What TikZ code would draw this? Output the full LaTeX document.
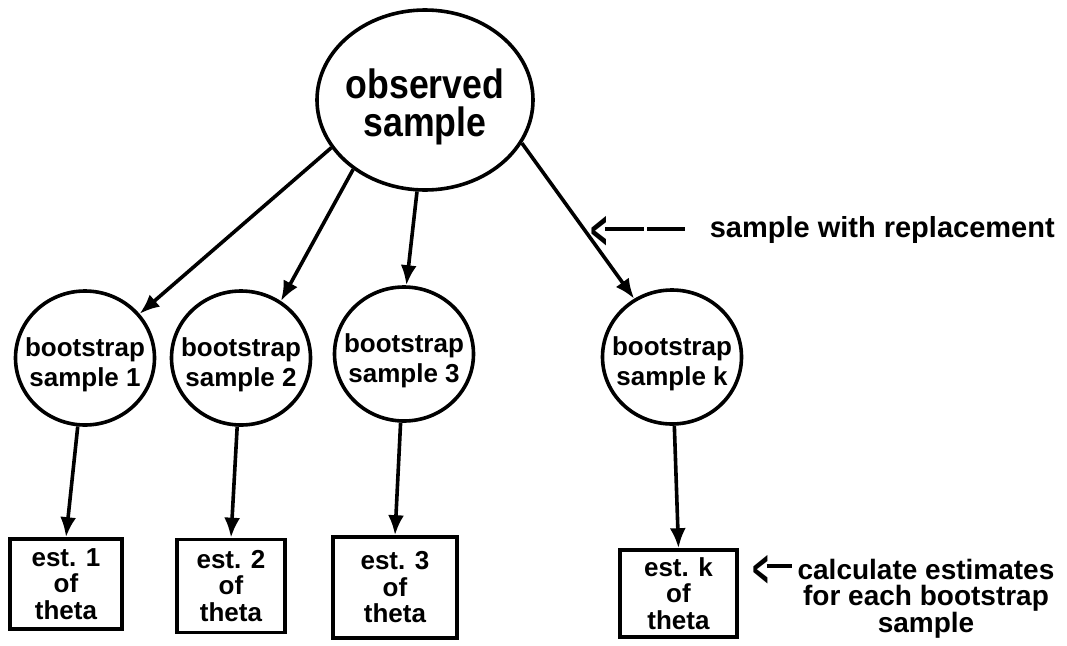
\documentclass[tikz,border=0pt]{standalone}
\usepackage{graphicx}
\usepackage{fontspec}
\setmainfont{Liberation Sans}
\newfontfamily\narrowsans{Liberation Sans}[FakeStretch=0.87]
\newfontfamily\symsans{DejaVu Sans}
\usetikzlibrary{arrows.meta,shapes.geometric}

% heavy, tall pointer glyph used in the side notes
\newcommand{\pointerglyph}{\raisebox{-9pt}{\scalebox{0.8}[1.8]{\symsans\bfseries <}}}

\begin{document}
\begin{tikzpicture}[x=1pt, y=-1pt, line width=3.6pt,
  rootnode/.style={ellipse, draw, inner xsep=-10pt, inner ysep=0pt,
    minimum width=216pt, minimum height=180pt,
    align=center, font=\narrowsans\bfseries\fontsize{41}{38}\selectfont},
  sampnode/.style={ellipse, draw, inner sep=-13pt, minimum width=139pt, minimum height=134pt,
    align=center, font=\bfseries\fontsize{26}{30}\selectfont},
  estbox/.style={rectangle, draw, inner sep=0pt, align=center,
    font=\bfseries\fontsize{26}{26.5}\selectfont},
  flow/.style={-{Latex[length=20pt,width=16pt]}, line width=3.6pt},
  note/.style={inner sep=0pt, align=center, font=\bfseries\fontsize{#1}{26}\selectfont},
  note/.default=28]

% canvas
\fill[white] (0,0) rectangle (1067,645);
\useasboundingbox (0,0) rectangle (1067,645);

% observed sample
\node[rootnode] (obs) at (425,100) {\rule{0pt}{44pt}observed\\sample};

% bootstrap samples
\node[sampnode] (s1) at (85,358)  {\rule{0pt}{33pt}bootstrap\\sample 1};
\node[sampnode] (s2) at (241,358) {\rule{0pt}{33pt}bootstrap\\sample 2};
\node[sampnode] (s3) at (404,354) {\rule{0pt}{33pt}bootstrap\\sample 3};
\node[sampnode] (sk) at (672,357) {\rule{0pt}{33pt}bootstrap\\sample k};

% estimates
\node[estbox, minimum width=112pt, minimum height=90pt]  (e1) at (66,584)    {est. 1\\of\\theta};
\node[estbox, minimum width=108pt, minimum height=93pt]  (e2) at (231,586)   {est. 2\\of\\theta};
\node[estbox, minimum width=124pt, minimum height=101pt] (e3) at (395,587.5) {est. 3\\of\\theta};
\node[estbox, minimum width=117pt, minimum height=87pt]  (ek) at (678.5,593.5) {est. k\\of\\theta};

% resampling arrows
\draw[flow] (obs.207) -- (s1.39);
\draw[flow] (obs.224) -- (s2.55);
\draw[flow] (obs.265) -- (s3.88);
\draw[flow] (obs.336) -- (sk.123);

% estimation arrows
\draw[flow] (s1) -- (e1.north);
\draw[flow] (s2) -- (e2.north);
\draw[flow] (s3) -- (e3.north);
\draw[flow] (sk) -- (ek.north);

% annotations
\node[note=29, anchor=west] (repArrow) at (588,232)
  {\pointerglyph\kern-4pt\rule[8pt]{39pt}{4pt}\kern3pt\rule[8pt]{38pt}{4pt}};
\node[note=29, anchor=base west] (rep) at (708,237) {sample with replacement};

\node[note=28, anchor=west] (calcArrow) at (750,570) {\pointerglyph\kern-4pt\rule[8pt]{25pt}{4pt}};
\node[note=28, anchor=north] (calc) at (926,557) {calculate estimates\\for each bootstrap\\sample};
\end{tikzpicture}
\end{document}
